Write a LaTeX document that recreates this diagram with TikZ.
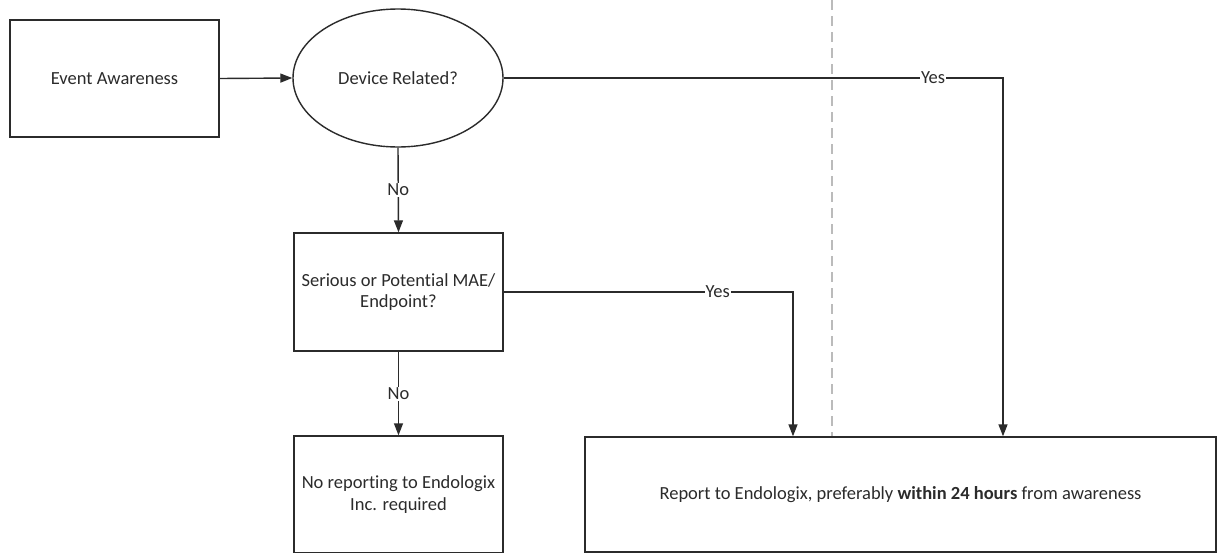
\documentclass[tikz,border=0pt]{standalone}
\usepackage{fontspec}
\setmainfont{Carlito}[Ligatures=CommonOff]
\usetikzlibrary{arrows.meta,shapes.geometric}
\definecolor{ink}{HTML}{2B2B2B}
\definecolor{dashgray}{HTML}{BBBBBB}
\tikzset{
  box/.style={draw=ink, line width=1.4pt, rectangle, align=center, text=ink, inner sep=4pt},
  oval/.style={draw=ink, line width=1.4pt, ellipse, align=center, text=ink},
  conn/.style={draw=ink, line width=1.4pt, -{Triangle[length=12pt,width=9pt]}},
  lbl/.style={fill=white, text=ink, inner sep=1pt},
  divider/.style={draw=dashgray, line width=1.2pt, dash pattern=on 10pt off 6pt},
}
\begin{document}
\begin{tikzpicture}[x=1pt,y=-1pt, font=\fontsize{18.5}{21.5}\selectfont]
\useasboundingbox (0,0) rectangle (1220,552);
\clip (0,0) rectangle (1220,552);
\fill[white] (0,0) rectangle (1220,552);
\node[box, minimum width=209pt, minimum height=117pt] (ev) at (114.5,78.5) {Event Awareness};
\node[oval, minimum width=210pt, minimum height=138pt] (dev) at (398,78) {Device Related?};
\node[box, minimum width=209pt, minimum height=118pt] (ser) at (398.5,292) {Serious or Potential MAE/\\Endpoint?};
\node[box, minimum width=209pt, minimum height=117pt] (nor) at (398.5,494.5) {No reporting to Endologix\\Inc. required};
\node[box, minimum width=631pt, minimum height=115pt] (rep) at (900.5,494.5) {Report to Endologix, preferably \textbf{within 24 hours} from awareness};
\coordinate (top) at (832,0);
\draw[divider] (top) -- (top |- rep.north);
\coordinate (c1) at (1003,78);
\coordinate (c2) at (793,292);
\draw[conn] (ev.east) -- (dev.west);
\draw[conn] (dev.east) -- node[lbl, pos=0.86]{Yes} (c1) -- (c1 |- rep.north);
\draw[conn] (ser.east) -- node[lbl, pos=0.74]{Yes} (c2) -- (c2 |- rep.north);
\draw[conn] (dev.south) -- node[lbl]{No} (ser.north);
\draw[conn] (ser.south) -- node[lbl]{No} (nor.north);
\end{tikzpicture}
\end{document}
